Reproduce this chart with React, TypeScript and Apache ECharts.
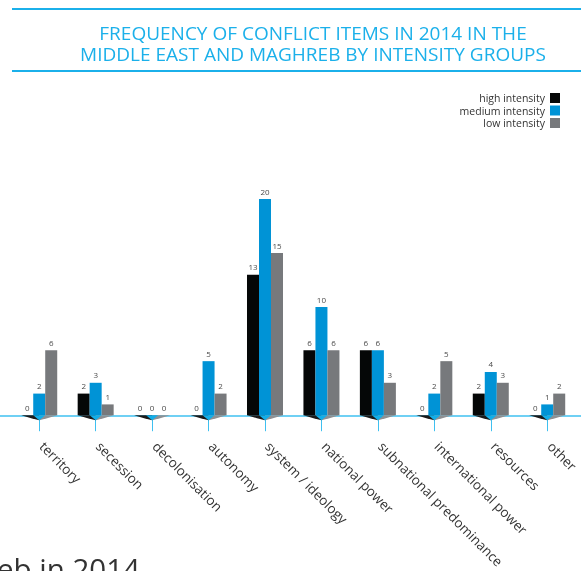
import React, { useEffect, useRef } from "react";
import * as echarts from "echarts";

const categories = [
  "territory",
  "secession",
  "decolonisation",
  "autonomy",
  "system / ideology",
  "national power",
  "subnational predominance",
  "international power",
  "resources",
  "other",
];
const highIntensity = [0, 2, 0, 0, 13, 6, 6, 0, 2, 0];
const mediumIntensity = [2, 3, 0, 5, 20, 10, 6, 2, 4, 1];
const lowIntensity = [6, 1, 0, 2, 15, 6, 3, 5, 3, 2];
const seriesNames = ["high intensity", "medium intensity", "low intensity"];
const titleLines = [
  "FREQUENCY OF CONFLICT ITEMS IN 2014 IN THE",
  "MIDDLE EAST AND MAGHREB BY INTENSITY GROUPS",
];
const footerText = "eb in 2014";

const BLACK = "#050707";
const BLUE = "#0093d6";
const GRAY = "#77797c";
const ACCENT = "#1bb0ea";
const FONT = "'Open Sans', 'Noto Sans', sans-serif";

export default function App() {
  const ref = useRef<HTMLDivElement>(null);
  useEffect(() => {
    if (!ref.current) return;
    const chart = echarts.init(ref.current, null, { renderer: "svg" });
    const labelCfg = {
      show: true,
      position: "top",
      distance: 4,
      fontSize: 8,
      color: "#4a4a4a",
      fontFamily: FONT,
    };
    const mkBar = (name: string, data: number[], color: string) => ({
      name,
      type: "bar",
      data,
      barWidth: 12,
      barGap: "0%",
      itemStyle: { color },
      label: labelCfg,
      z: 3,
    });
    chart.setOption({
      animation: false,
      textStyle: { fontFamily: FONT },
      title: {
        text: titleLines.join("\n"),
        left: 308,
        textAlign: "center",
        top: 17,
        textStyle: {
          color: ACCENT,
          fontSize: 19,
          fontWeight: "normal",
          lineHeight: 21,
          fontFamily: FONT,
        },
      },
      legend: {
        orient: "vertical",
        right: 16,
        top: 87,
        align: "right",
        icon: "rect",
        itemWidth: 10,
        itemHeight: 10,
        itemGap: 0.5,
        textStyle: {
          fontSize: 10.5,
          lineHeight: 12,
          color: "#333",
          fontFamily: FONT,
        },
        data: seriesNames,
      },
      grid: { left: 11, width: 572, top: 199, bottom: 155 },
      xAxis: {
        type: "category",
        data: categories,
        axisLine: { show: false },
        axisTick: {
          show: true,
          alignWithLabel: true,
          length: 16,
          lineStyle: { color: "#3fc0f0", width: 1 },
        },
        axisLabel: {
          rotate: -45,
          interval: 0,
          margin: 26,
          padding: [0, 0, 0, 4],
          fontSize: 13.5,
          color: "#333",
          fontFamily: FONT,
        },
      },
      yAxis: {
        type: "value",
        min: 0,
        max: 20,
        show: false,
      },
      graphic: [
        {
          type: "line",
          shape: { x1: 12, y1: 9, x2: 581, y2: 9 },
          style: { stroke: ACCENT, lineWidth: 2 },
        },
        {
          type: "line",
          shape: { x1: 12, y1: 71, x2: 581, y2: 71 },
          style: { stroke: ACCENT, lineWidth: 2 },
        },
        {
          type: "line",
          shape: { x1: 0, y1: 416, x2: 581, y2: 416 },
          style: { stroke: "#3fc0f0", lineWidth: 1.5 },
          z: 1,
        },
        {
          type: "text",
          left: -3,
          top: 553,
          style: {
            text: footerText,
            fontSize: 29.5,
            fill: "#333",
            fontFamily: FONT,
          },
        },
      ],
      series: [
        mkBar(seriesNames[0], highIntensity, BLACK),
        mkBar(seriesNames[1], mediumIntensity, BLUE),
        mkBar(seriesNames[2], lowIntensity, GRAY),
        {
          type: "custom",
          name: "shadow",
          silent: true,
          z: 4,
          data: categories.map((_, i) => [i, 0]),
          renderItem: (params: any, api: any) => {
            const p = api.coord([api.value(0), 0]);
            const c = p[0];
            const y = p[1];
            return {
              type: "group",
              children: [
                {
                  type: "polygon",
                  shape: {
                    points: [
                      [c - 18, y],
                      [c, y],
                      [c, y + 5],
                      [c - 8, y + 3],
                    ],
                  },
                  style: { fill: "#1a1a1a" },
                },
                {
                  type: "polygon",
                  shape: {
                    points: [
                      [c, y],
                      [c + 18, y],
                      [c + 8, y + 3],
                      [c, y + 5],
                    ],
                  },
                  style: { fill: "#8e9093" },
                },
                {
                  type: "polygon",
                  shape: {
                    points: [
                      [c - 6, y],
                      [c + 6, y],
                      [c, y + 5],
                    ],
                  },
                  style: { fill: "#12aee9" },
                },
              ],
            };
          },
        },
      ],
    });
    return () => chart.dispose();
  }, []);
  return (
    <div
      ref={ref}
      style={{ position: "fixed", left: 0, top: 0, width: 581, height: 571 }}
    />
  );
}
